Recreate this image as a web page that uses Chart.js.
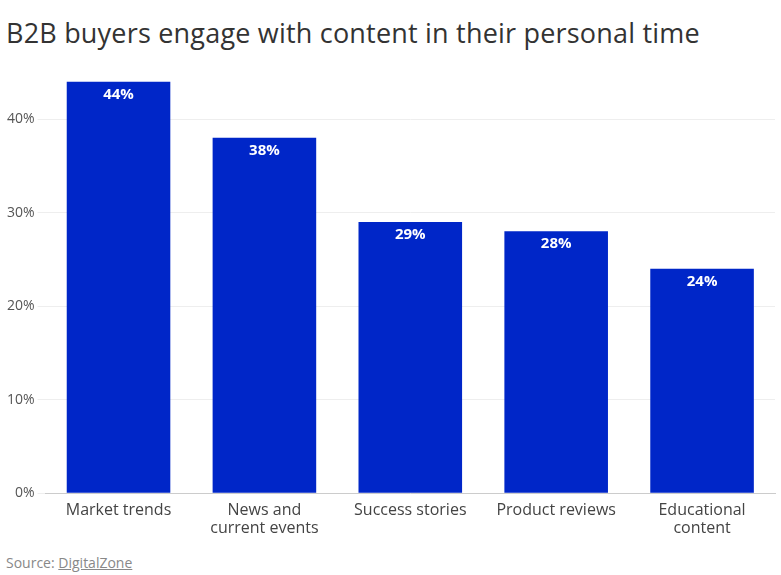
<!DOCTYPE html>
<html><head><meta charset="utf-8">
<script src="https://cdn.jsdelivr.net/npm/chart.js@4"></script>
<style>
body{margin:0;width:781px;height:575px;background:#fff;font-family:"Open Sans",sans-serif;position:relative;overflow:hidden}
#t{position:absolute;left:6px;top:14px;font-size:27px;color:#333;white-space:nowrap;letter-spacing:0.2px}
#c{position:absolute;left:0;top:61px;width:781px;height:477px}
#s{position:absolute;left:6px;top:553px;font-size:14px;color:#888}
#s u{color:#888}
</style></head><body>
<div id="t">B2B buyers engage with content in their personal time</div>
<div id="c"><canvas id="cv"></canvas></div>
<div id="s">Source: <u>DigitalZone</u></div>
<script>
const categories=[["Market trends"],["News and","current events"],["Success stories"],["Product reviews"],["Educational","content"]];
const values=[44,38,29,28,24];
const tickValues=[0,10,20,30,40];
const labelPlugin={id:'lbl',afterDatasetsDraw(ch){const c=ch.ctx;const m=ch.getDatasetMeta(0);c.save();c.fillStyle='#fff';c.font='bold 15px "Open Sans"';c.textAlign='center';c.textBaseline='top';m.data.forEach((b,i)=>{c.fillText(values[i]+'%',b.x,b.y+5);});c.restore();}};
new Chart(document.getElementById('cv'),{type:'bar',
data:{labels:categories,datasets:[{data:values,backgroundColor:'#0026c8',barPercentage:0.71,categoryPercentage:1}]},
options:{responsive:true,maintainAspectRatio:false,animation:false,
layout:{padding:{left:4,right:6,top:0}},
plugins:{legend:{display:false},tooltip:{enabled:false}},
scales:{x:{grid:{display:false},border:{color:'#ccc'},ticks:{color:'#444',font:{size:16,family:'"Open Sans"',lineHeight:1.15},padding:0}},
y:{min:0,max:45,afterBuildTicks(a){a.ticks=tickValues.map(v=>({value:v}));},
border:{display:false},grid:{color:'#eee'},
ticks:{color:'#555',font:{size:14,family:'"Open Sans"'},callback:v=>v+'%'}}}},
plugins:[labelPlugin]});
</script></body></html>
